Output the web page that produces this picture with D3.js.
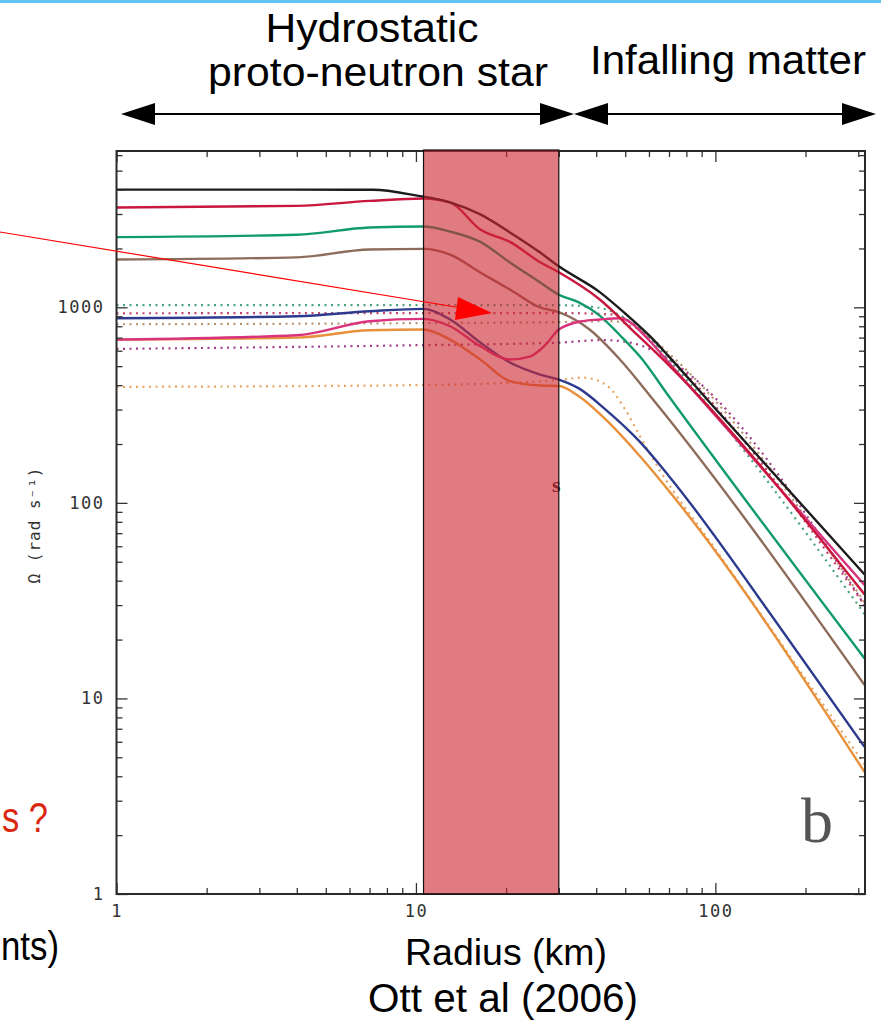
<!DOCTYPE html>
<html>
<head>
<meta charset="utf-8">
<script src="https://cdn.jsdelivr.net/npm/d3@7"></script>
<style>
    body { margin: 0; background: #ffffff; }
    svg { display: block; }
</style>
</head>
<body>
<div id="chart"></div>
<script>
// Angular velocity profiles, Omega (rad/s) against radius (km)
var radiusBlack = [1, 4, 7.2, 10, 13, 16.4, 20.6, 26, 30, 41, 50, 60, 70, 94, 315];
var omegaBlack = [4000, 4000, 3990, 3735, 3440, 2985, 2415, 1905, 1620, 1200, 930, 720, 560, 337, 43];

var radiusRed = [1, 4, 7, 10.6, 13, 16.4, 20.6, 26, 30, 41, 55, 70, 315];
var omegaRed = [3240, 3300, 3500, 3600, 3440, 2500, 2160, 1700, 1510, 1100, 720, 505, 34];

var radiusGreen = [1, 4, 7, 10.6, 13, 16.4, 20.6, 26, 30, 35, 41, 48, 56, 70, 315];
var omegaGreen = [2285, 2350, 2560, 2590, 2440, 2160, 1695, 1340, 1160, 1060, 910, 720, 560, 350, 16];

var radiusBrown = [1, 4, 7, 10.6, 13, 16.4, 20.6, 26, 30, 38, 48, 62, 315];
var omegaBrown = [1756, 1800, 1976, 1990, 1862, 1507, 1233, 998, 944, 770, 541, 337, 11.7];

var radiusNavy = [1, 4, 7, 10.6, 13, 16.4, 20.6, 26, 30, 35, 43, 56, 70, 168, 315];
var omegaNavy = [880, 900, 955, 982, 866, 661, 522, 453, 427, 385, 300, 205, 137, 22, 5.65];

var radiusMagenta = [1, 4, 7, 10.6, 13, 16.4, 20.6, 24, 27, 30, 36, 41, 48, 60, 70, 315];
var omegaMagenta = [684, 720, 849, 873, 800, 632, 541, 560, 640, 770, 850, 866, 880, 680, 520, 38];

var radiusOrange = [1, 4, 7, 10.6, 13, 16.4, 20.6, 26, 30, 35, 43, 56, 70, 315];
var omegaOrange = [684, 700, 763, 770, 684, 541, 419, 398, 396, 351, 267, 173, 115, 4.2];

var radiusGreenDot = [1, 10, 30, 40, 50, 60, 70, 315];
var omegaGreenDot = [1025, 1025, 1025, 1000, 880, 700, 540, 27];

var radiusCrimsonDot = [1, 10, 30, 45, 55, 70, 315];
var omegaCrimsonDot = [932, 935, 935, 920, 790, 560, 30];

var radiusTanDot = [1, 10, 30, 45, 58, 70, 315];
var omegaTanDot = [819, 830, 840, 850, 740, 580, 31];

var radiusMagentaDot = [1, 10, 30, 42, 52, 62, 70, 315];
var omegaMagentaDot = [613, 640, 660, 680, 660, 600, 540, 30];

var radiusOrangeDot = [1, 10, 30, 36, 43, 50, 56, 65, 100, 315];
var omegaOrangeDot = [392, 400, 425, 437, 403, 300, 219, 148, 58, 4.6];

// Shaded band (km)
var shadeRange = [10.6, 30];

// Ticks
var xMajorTicks = [1, 10, 100];
var xMinorTicks = [2, 3, 4, 5, 6, 7, 8, 9, 20, 30, 40, 50, 60, 70, 80, 90, 200, 300];
var yMajorTicks = [1, 10, 100, 1000];
var yMinorTicks = [2, 3, 4, 5, 6, 7, 8, 9, 20, 30, 40, 50, 60, 70, 80, 90,
    200, 300, 400, 500, 600, 700, 800, 900, 2000, 3000, 4000, 5000, 6000];

var series = [
    { r: radiusGreenDot, w: omegaGreenDot, color: "#4aa37f", dotted: true },
    { r: radiusCrimsonDot, w: omegaCrimsonDot, color: "#c4446c", dotted: true },
    { r: radiusTanDot, w: omegaTanDot, color: "#b8946e", dotted: true },
    { r: radiusMagentaDot, w: omegaMagentaDot, color: "#a23e8e", dotted: true },
    { r: radiusOrangeDot, w: omegaOrangeDot, color: "#e6a565", dotted: true },
    { r: radiusOrange, w: omegaOrange, color: "#e8903a", dotted: false },
    { r: radiusNavy, w: omegaNavy, color: "#2d3b8e", dotted: false },
    { r: radiusBrown, w: omegaBrown, color: "#8d6c5b", dotted: false },
    { r: radiusGreen, w: omegaGreen, color: "#119b6b", dotted: false },
    { r: radiusMagenta, w: omegaMagenta, color: "#d8337c", dotted: false },
    { r: radiusRed, w: omegaRed, color: "#c8163e", dotted: false },
    { r: radiusBlack, w: omegaBlack, color: "#1c1c1c", dotted: false }
];

var W = 881, H = 1021;
var plot = { left: 116.5, right: 865, top: 151, bottom: 894 };

var svg = d3.select("#chart").append("svg")
    .attr("width", W)
    .attr("height", H);

// light blue slide rule at the very top
svg.append("rect")
    .attr("x", 0).attr("y", 0)
    .attr("width", W).attr("height", 3)
    .attr("fill", "#62c3f5");

var x = d3.scaleLog().domain([1, 316]).range([plot.left, plot.right]);
var y = d3.scaleLog().domain([1, 6300]).range([plot.bottom, plot.top]);

var line = d3.line()
    .x(function (d) { return x(d[0]); })
    .y(function (d) { return y(d[1]); })
    .curve(d3.curveMonotoneX);

svg.append("clipPath").attr("id", "plotclip")
    .append("rect")
    .attr("x", plot.left).attr("y", plot.top)
    .attr("width", plot.right - plot.left)
    .attr("height", plot.bottom - plot.top);

var lines = svg.append("g").attr("clip-path", "url(#plotclip)");
series.forEach(function (s) {
    var pts = s.r.map(function (r, i) { return [r, s.w[i]]; });
    lines.append("path")
        .datum(pts)
        .attr("d", line)
        .attr("fill", "none")
        .attr("stroke", s.color)
        .attr("stroke-width", s.dotted ? 2.2 : 2.4)
        .attr("stroke-dasharray", s.dotted ? "2,4.5" : null);
});

// axes: major and minor ticks on all four sides, pointing inwards
var fmt = function (d) { return String(d); };
function styleAxis(g) {
    g.select(".domain").remove();
    g.selectAll("line").attr("stroke", "#333").attr("stroke-width", 1.3);
    g.selectAll("text")
        .attr("font-family", "DejaVu Sans Mono, monospace")
        .attr("font-size", 17)
        .attr("letter-spacing", 1.5)
        .attr("fill", "#333");
}

svg.append("g").attr("transform", "translate(0," + plot.bottom + ")")
    .call(d3.axisBottom(x).tickValues(xMajorTicks).tickFormat(fmt).tickSizeInner(-11).tickSizeOuter(0).tickPadding(11))
    .call(styleAxis);
svg.append("g").attr("transform", "translate(0," + plot.bottom + ")")
    .call(d3.axisBottom(x).tickValues(xMinorTicks).tickFormat("").tickSizeInner(-6).tickSizeOuter(0))
    .call(styleAxis);
svg.append("g").attr("transform", "translate(0," + plot.top + ")")
    .call(d3.axisTop(x).tickValues(xMajorTicks).tickFormat("").tickSizeInner(-11).tickSizeOuter(0))
    .call(styleAxis);
svg.append("g").attr("transform", "translate(0," + plot.top + ")")
    .call(d3.axisTop(x).tickValues(xMinorTicks).tickFormat("").tickSizeInner(-6).tickSizeOuter(0))
    .call(styleAxis);

svg.append("g").attr("transform", "translate(" + plot.left + ",0)")
    .call(d3.axisLeft(y).tickValues(yMajorTicks).tickFormat(fmt).tickSizeInner(-11).tickSizeOuter(0).tickPadding(12))
    .call(styleAxis);
svg.append("g").attr("transform", "translate(" + plot.left + ",0)")
    .call(d3.axisLeft(y).tickValues(yMinorTicks).tickFormat("").tickSizeInner(-6).tickSizeOuter(0))
    .call(styleAxis);
svg.append("g").attr("transform", "translate(" + plot.right + ",0)")
    .call(d3.axisRight(y).tickValues(yMajorTicks).tickFormat("").tickSizeInner(-11).tickSizeOuter(0))
    .call(styleAxis);
svg.append("g").attr("transform", "translate(" + plot.right + ",0)")
    .call(d3.axisRight(y).tickValues(yMinorTicks).tickFormat("").tickSizeInner(-6).tickSizeOuter(0))
    .call(styleAxis);

// frame
svg.append("rect")
    .attr("x", plot.left).attr("y", plot.top)
    .attr("width", plot.right - plot.left)
    .attr("height", plot.bottom - plot.top)
    .attr("fill", "none")
    .attr("stroke", "#2a2a2a")
    .attr("stroke-width", 2);

// y axis title
svg.append("text")
    .attr("transform", "translate(40,525) rotate(-90)")
    .attr("text-anchor", "middle")
    .attr("font-family", "DejaVu Sans Mono, monospace")
    .attr("font-size", 16)
    .attr("letter-spacing", 1)
    .attr("fill", "#333")
    .text("\u03A9  (rad s\u207B\u00B9)");

// panel letter and stray glyph
svg.append("text")
    .attr("x", 801).attr("y", 842)
    .attr("font-family", "Liberation Serif, serif")
    .attr("font-size", 64)
    .attr("fill", "#555")
    .text("b");
svg.append("text")
    .attr("x", 552).attr("y", 492)
    .attr("font-family", "Liberation Serif, serif")
    .attr("font-weight", "bold")
    .attr("font-size", 22)
    .attr("fill", "#3a2626")
    .text("s");

// shaded proto-neutron star band
svg.append("rect")
    .attr("x", x(shadeRange[0]))
    .attr("y", plot.top - 1)
    .attr("width", x(shadeRange[1]) - x(shadeRange[0]))
    .attr("height", plot.bottom - plot.top + 1)
    .attr("fill", "rgb(205,40,50)")
    .attr("fill-opacity", 0.61)
    .attr("stroke", "#111")
    .attr("stroke-width", 1.2);

// red pointer arrow
svg.append("line")
    .attr("x1", 0).attr("y1", 232)
    .attr("x2", 462).attr("y2", 308)
    .attr("stroke", "#ff0000")
    .attr("stroke-width", 1.2);
svg.append("polygon")
    .attr("points", "492,313 458,297 455,320")
    .attr("fill", "#ff0000");

// double-headed region arrows
function hArrow(x1, x2, yy) {
    var g = svg.append("g");
    g.append("line")
        .attr("x1", x1 + 20).attr("x2", x2 - 20)
        .attr("y1", yy).attr("y2", yy)
        .attr("stroke", "#000").attr("stroke-width", 2);
    g.append("polygon")
        .attr("points", x1 + "," + yy + " " + (x1 + 34) + "," + (yy - 11) + " " + (x1 + 34) + "," + (yy + 11))
        .attr("fill", "#000");
    g.append("polygon")
        .attr("points", x2 + "," + yy + " " + (x2 - 34) + "," + (yy - 11) + " " + (x2 - 34) + "," + (yy + 11))
        .attr("fill", "#000");
}
hArrow(121, 574, 114);
hArrow(574, 876, 114);

function label(txt, cx, by, size, len, color) {
    svg.append("text")
        .attr("x", cx - len / 2).attr("y", by)
        .attr("font-family", "Liberation Sans, Arial, sans-serif")
        .attr("font-size", size)
        .attr("fill", color || "#000")
        .attr("textLength", len)
        .attr("lengthAdjust", "spacingAndGlyphs")
        .text(txt);
}
label("Hydrostatic", 372, 42, 40, 213);
label("proto-neutron star", 378, 86, 40, 340);
label("Infalling matter", 728, 74, 40, 276);
label("Radius (km)", 506, 965, 36, 202);
label("Ott et al (2006)", 503, 1012, 40, 270);

// slide text fragments at the left edge
label("s ?", 25, 832, 42, 46, "#d9280f");
label("nts)", 30, 960, 40, 58);
</script>
</body>
</html>
